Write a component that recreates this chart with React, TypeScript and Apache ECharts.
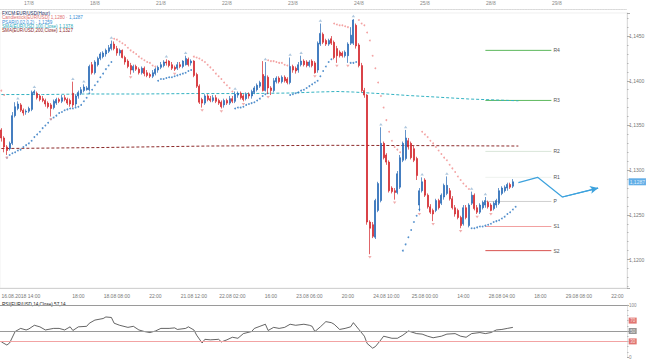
import React, { useEffect, useRef } from "react";
import * as echarts from "echarts";

// ---------- categories (hourly bars) ----------
const DAYS = ["16", "17", "18", "21", "22", "23", "24", "25", "28", "29", "30"];
const FIRST_HOUR = 14;
const CATEGORY_COUNT = 228;
const CATEGORIES = Array.from({ length: CATEGORY_COUNT }, (_, i) => {
  const d = DAYS[Math.floor((i + FIRST_HOUR) / 24)];
  const h = (i + FIRST_HOUR) % 24;
  return `${d}.08.2018 ${String(h).padStart(2, "0")}:00`;
});

const TOP_LABEL_INDEX = [10, 34, 58, 82, 106, 130, 154, 178, 202];
const TOP_LABELS = ["17/8", "18/8", "21/8", "22/8", "23/8", "24/8", "25/8", "28/8", "29/8"];
const BOTTOM_LABEL_STEP = 14;
const BOTTOM_LABELS = [
  "16.08.2018 14:00", "", "18:00", "18.08 08:00", "22:00", "21.08 12:00", "22.08 02:00",
  "16:00", "23.08 06:00", "20:00", "24.08 10:00", "25.08 00:00", "14:00", "28.08 04:00",
  "18:00", "29.08 08:00", "22:00",
];

// ---------- candles: [open, close, low, high] ----------
const CANDLES: number[][] = [
  [1.1345, 1.1336, 1.1332, 1.1347], [1.1336, 1.1326, 1.132, 1.1338], [1.1326, 1.1322, 1.1317, 1.1328],
  [1.1324, 1.133, 1.1322, 1.1332], [1.133, 1.1361, 1.1328, 1.1365], [1.1361, 1.1371, 1.1359, 1.1376],
  [1.1369, 1.1374, 1.1367, 1.1377], [1.1373, 1.1367, 1.1365, 1.1375], [1.1367, 1.1364, 1.1361, 1.1369],
  [1.1365, 1.1366, 1.1362, 1.1368], [1.1366, 1.1369, 1.1364, 1.1371], [1.1368, 1.1387, 1.1366, 1.1389],
  [1.1386, 1.1388, 1.1384, 1.139], [1.1386, 1.1381, 1.1379, 1.1388], [1.1383, 1.1379, 1.1377, 1.1385],
  [1.138, 1.1378, 1.1376, 1.1383], [1.1378, 1.1374, 1.1371, 1.138], [1.1375, 1.1371, 1.1369, 1.1377],
  [1.1373, 1.1369, 1.136, 1.1375], [1.137, 1.1377, 1.1368, 1.1379], [1.1375, 1.1379, 1.1373, 1.1381],
  [1.1379, 1.1377, 1.1375, 1.1381], [1.1377, 1.1381, 1.1375, 1.1384], [1.1381, 1.1379, 1.1377, 1.1384],
  [1.1379, 1.1375, 1.1373, 1.1381], [1.1378, 1.1374, 1.1371, 1.138], [1.1386, 1.1373, 1.137, 1.1399],
  [1.1374, 1.1383, 1.1371, 1.1385], [1.1383, 1.1387, 1.138, 1.1389], [1.1386, 1.139, 1.1384, 1.1393],
  [1.1389, 1.1393, 1.1387, 1.1396], [1.139, 1.1392, 1.1389, 1.1394], [1.139, 1.1416, 1.1388, 1.1418],
  [1.1418, 1.1409, 1.1407, 1.1421], [1.1409, 1.1421, 1.1407, 1.1423], [1.1418, 1.1425, 1.1416, 1.1427],
  [1.1425, 1.143, 1.1423, 1.1432], [1.1427, 1.1431, 1.1425, 1.1433], [1.143, 1.1434, 1.1427, 1.1436],
  [1.1433, 1.1437, 1.1431, 1.144], [1.1436, 1.1441, 1.1434, 1.1445], [1.1441, 1.1436, 1.1434, 1.1444],
  [1.1436, 1.1431, 1.1428, 1.1439], [1.1431, 1.1434, 1.1428, 1.1436], [1.1434, 1.1426, 1.1425, 1.1435],
  [1.1426, 1.1421, 1.1418, 1.1428], [1.1422, 1.1416, 1.1414, 1.1424], [1.1417, 1.1412, 1.1407, 1.142],
  [1.1412, 1.1416, 1.1409, 1.1418], [1.1416, 1.1413, 1.1411, 1.1418], [1.1413, 1.1409, 1.1407, 1.1415],
  [1.1409, 1.1414, 1.1407, 1.1416], [1.1414, 1.1408, 1.1405, 1.1416], [1.1409, 1.1406, 1.1404, 1.1412],
  [1.1407, 1.1405, 1.1403, 1.1409], [1.1405, 1.1409, 1.1403, 1.1412], [1.1408, 1.1413, 1.1406, 1.1415],
  [1.1412, 1.1415, 1.1409, 1.1417], [1.1415, 1.1418, 1.1413, 1.1421], [1.1417, 1.1421, 1.1415, 1.1423],
  [1.1421, 1.142, 1.1417, 1.1424], [1.1422, 1.1417, 1.1415, 1.1423], [1.1418, 1.1414, 1.1412, 1.1421],
  [1.1415, 1.1413, 1.1411, 1.1417], [1.1414, 1.1418, 1.1412, 1.1421], [1.1418, 1.1416, 1.1414, 1.1421],
  [1.1416, 1.1422, 1.1414, 1.1423], [1.1418, 1.1425, 1.1417, 1.1428], [1.1424, 1.1418, 1.1416, 1.1426],
  [1.142, 1.1422, 1.1417, 1.1424], [1.1422, 1.1406, 1.1404, 1.1423], [1.1407, 1.1394, 1.1392, 1.1409],
  [1.1394, 1.1376, 1.1374, 1.1396], [1.1379, 1.1375, 1.137, 1.1381], [1.1375, 1.1383, 1.1373, 1.1385],
  [1.1383, 1.1379, 1.1377, 1.1385], [1.138, 1.1378, 1.1376, 1.1383], [1.1378, 1.1381, 1.1376, 1.1384],
  [1.1381, 1.1377, 1.1375, 1.1384], [1.1378, 1.1375, 1.1373, 1.138], [1.1376, 1.1371, 1.1369, 1.1378],
  [1.1373, 1.1378, 1.137, 1.138], [1.1378, 1.1375, 1.1373, 1.138], [1.1375, 1.138, 1.1373, 1.1383],
  [1.138, 1.1377, 1.1375, 1.1383], [1.1377, 1.1385, 1.1375, 1.1388], [1.1384, 1.1386, 1.1381, 1.1388],
  [1.1386, 1.1381, 1.1379, 1.1388], [1.1383, 1.1379, 1.1377, 1.1385], [1.138, 1.1385, 1.1378, 1.1387],
  [1.1385, 1.1383, 1.138, 1.1387], [1.1383, 1.1388, 1.138, 1.139], [1.1387, 1.1392, 1.1385, 1.1394],
  [1.139, 1.1395, 1.1388, 1.1397], [1.1394, 1.1398, 1.1392, 1.14], [1.1407, 1.1389, 1.1388, 1.1422],
  [1.1389, 1.1405, 1.1388, 1.1421], [1.1404, 1.1392, 1.1385, 1.1406], [1.1392, 1.1389, 1.1384, 1.1394],
  [1.1389, 1.14, 1.1387, 1.1403], [1.1399, 1.1403, 1.1397, 1.1405], [1.1403, 1.1399, 1.1397, 1.1405],
  [1.1399, 1.1404, 1.1397, 1.1406], [1.1404, 1.14, 1.1398, 1.1406], [1.1402, 1.1398, 1.1396, 1.1404],
  [1.1398, 1.1416, 1.1396, 1.1426], [1.1416, 1.1412, 1.1409, 1.1418], [1.1414, 1.1411, 1.1408, 1.1416],
  [1.1412, 1.1418, 1.1409, 1.1421], [1.1418, 1.1422, 1.1416, 1.1428], [1.1422, 1.1418, 1.1416, 1.1424],
  [1.1421, 1.1417, 1.1415, 1.1423], [1.1417, 1.1421, 1.1415, 1.1423], [1.1422, 1.1417, 1.1415, 1.1424],
  [1.142, 1.1409, 1.1408, 1.1422], [1.1412, 1.1442, 1.1409, 1.1444], [1.1441, 1.1453, 1.1439, 1.1464],
  [1.1452, 1.1443, 1.1441, 1.1454], [1.1445, 1.1441, 1.1439, 1.1447], [1.1441, 1.1445, 1.1439, 1.1447],
  [1.1447, 1.1442, 1.144, 1.145], [1.1443, 1.1426, 1.1424, 1.1445], [1.1436, 1.1428, 1.142, 1.1439],
  [1.1432, 1.1428, 1.1426, 1.1434], [1.1431, 1.1428, 1.1426, 1.1433], [1.1428, 1.1432, 1.1426, 1.1434],
  [1.1428, 1.1441, 1.142, 1.1443], [1.1442, 1.1451, 1.144, 1.146], [1.1442, 1.1468, 1.144, 1.1469],
  [1.1462, 1.1439, 1.1436, 1.1464], [1.144, 1.1417, 1.1415, 1.1442], [1.1417, 1.1389, 1.1387, 1.142],
  [1.1389, 1.1384, 1.1381, 1.1392], [1.1384, 1.1242, 1.1239, 1.1385], [1.1242, 1.1235, 1.1206, 1.1244],
  [1.1239, 1.1226, 1.1224, 1.1242], [1.1225, 1.1266, 1.1223, 1.1268], [1.1255, 1.1285, 1.1253, 1.1287],
  [1.1266, 1.133, 1.1264, 1.1348], [1.133, 1.1314, 1.1312, 1.1332], [1.1317, 1.1309, 1.1306, 1.1319],
  [1.1309, 1.1277, 1.1275, 1.1311], [1.128, 1.1276, 1.1274, 1.1282], [1.1277, 1.1275, 1.1267, 1.128],
  [1.1275, 1.1296, 1.1273, 1.1299], [1.1281, 1.1314, 1.1279, 1.1317], [1.1311, 1.133, 1.1309, 1.1332],
  [1.1313, 1.1336, 1.1311, 1.1345], [1.1333, 1.1326, 1.1323, 1.1336], [1.133, 1.1314, 1.1312, 1.1332],
  [1.1324, 1.1311, 1.1309, 1.1327], [1.1313, 1.1294, 1.1289, 1.1315], [1.1261, 1.1277, 1.1254, 1.128],
  [1.1277, 1.1287, 1.1275, 1.1292], [1.1289, 1.1272, 1.127, 1.1291], [1.1272, 1.1259, 1.1257, 1.1274],
  [1.1259, 1.1253, 1.1251, 1.1262], [1.1255, 1.1251, 1.1243, 1.1257], [1.1255, 1.1266, 1.1253, 1.1268],
  [1.1266, 1.1258, 1.1256, 1.1268], [1.1263, 1.1272, 1.1261, 1.1274], [1.127, 1.1283, 1.1267, 1.1285],
  [1.1274, 1.1283, 1.1272, 1.1293], [1.1277, 1.1268, 1.1266, 1.128], [1.1268, 1.1258, 1.1256, 1.1271],
  [1.1258, 1.1251, 1.1248, 1.1261], [1.1255, 1.1247, 1.1245, 1.1257], [1.1247, 1.1238, 1.1235, 1.1249],
  [1.124, 1.1258, 1.1238, 1.1261], [1.1258, 1.1247, 1.1245, 1.1261], [1.1238, 1.1261, 1.1236, 1.1263],
  [1.1263, 1.1272, 1.1261, 1.1276], [1.1272, 1.1257, 1.1255, 1.1274], [1.1258, 1.1253, 1.1251, 1.1261],
  [1.1253, 1.1261, 1.1251, 1.1263], [1.1258, 1.1264, 1.1256, 1.1266], [1.1261, 1.1266, 1.1258, 1.127],
  [1.1264, 1.1259, 1.1257, 1.1266], [1.1261, 1.1255, 1.1254, 1.1263], [1.1257, 1.1263, 1.1255, 1.1265],
  [1.1261, 1.1266, 1.1258, 1.1268], [1.1263, 1.1277, 1.1261, 1.128], [1.1274, 1.128, 1.1272, 1.1282],
  [1.1277, 1.1281, 1.1275, 1.1283], [1.128, 1.1284, 1.1277, 1.1286], [1.1284, 1.1281, 1.1279, 1.1286],
  [1.1282, 1.1287, 1.128, 1.129],
];

// ---------- Parabolic SAR (one value per bar, plus the next bar) ----------
const SAR: number[] = [
  1.1389, 1.1384,
  1.1314, 1.1317, 1.1319, 1.132, 1.1322, 1.1323, 1.1326, 1.1328, 1.133, 1.1333, 1.1337, 1.134, 1.1343,
  1.1347, 1.135, 1.1353, 1.1357, 1.1359, 1.1361, 1.1364, 1.1365, 1.1367, 1.1368, 1.1369, 1.1369, 1.137,
  1.1371, 1.1373, 1.1377, 1.1381, 1.1386, 1.139, 1.1395, 1.1399, 1.1404, 1.1408, 1.1413, 1.1417, 1.1421,
  1.1447, 1.1446, 1.1444, 1.1442, 1.144, 1.1437, 1.1434, 1.1432, 1.143, 1.1427, 1.1425, 1.1423, 1.1421,
  1.142, 1.1417, 1.1416,
  1.14, 1.1402, 1.1402, 1.1403, 1.1404, 1.1404, 1.1405, 1.1406, 1.1407, 1.1408, 1.1409, 1.1411, 1.1412,
  1.1427, 1.1426, 1.1425, 1.1423, 1.1421, 1.1418, 1.1415, 1.1412, 1.1408, 1.1405, 1.1402, 1.1398, 1.1395,
  1.1392, 1.1388,
  1.1369, 1.137, 1.137, 1.1371, 1.1373, 1.1374, 1.1375, 1.1376, 1.1378, 1.138, 1.1383, 1.1385,
  1.1423, 1.1422, 1.1422, 1.1421, 1.142, 1.142, 1.1418, 1.1417,
  1.1384, 1.1385, 1.1386, 1.1387, 1.1389, 1.139, 1.1392, 1.1394, 1.1396, 1.1398, 1.14, 1.1405, 1.1411,
  1.1416, 1.1421, 1.1424,
  1.1464, 1.1463, 1.1462, 1.1462, 1.1461, 1.146,
  1.142, 1.142, 1.1421,
  1.1468, 1.1464, 1.1462, 1.1454, 1.1445, 1.1428, 1.1414, 1.1398, 1.1383, 1.137, 1.1356, 1.1343, 1.1333,
  1.1326, 1.1323, 1.132,
  1.121, 1.1217, 1.1225, 1.1233, 1.1242, 1.1249, 1.1256,
  1.1343, 1.134, 1.1337, 1.1333, 1.133, 1.1326, 1.1322, 1.1318, 1.1314, 1.1311, 1.1306, 1.1302, 1.1298,
  1.1293, 1.1289, 1.1285, 1.1282, 1.1279,
  1.1235, 1.1235, 1.1236, 1.1237, 1.1237, 1.1238, 1.1239, 1.124, 1.1242, 1.1243, 1.1244, 1.1246, 1.1248,
  1.1251, 1.1253, 1.1256, 1.1259,
];

// fractal markers (bar indices)
const FRACTAL_UP = [6, 12, 26, 30, 40, 60, 67, 85, 96, 105, 109, 116, 128, 138, 147, 153, 162, 171, 176];
const FRACTAL_DOWN = [2, 18, 47, 63, 73, 80, 88, 97, 114, 122, 126, 134, 143, 152, 157, 167, 173, 178];

// moving averages: [bar index, value]
const SMA100: number[][] = [
  [0, 1.13846], [15, 1.13846], [30, 1.13852], [50, 1.13852], [70, 1.13857], [90, 1.13857],
  [105, 1.13863], [115, 1.13874], [122, 1.1388], [128, 1.13874], [134, 1.13863], [140, 1.13852],
  [148, 1.13835], [158, 1.13818], [170, 1.13796], [180, 1.13785], [188, 1.13776],
];
const SMA200: number[][] = [
  [0, 1.13242], [36, 1.13253], [75, 1.1327], [120, 1.13278], [150, 1.13275], [188, 1.1327],
];

// pivots
const PIVOT_NAMES = ["R4", "R3", "R2", "R1", "P", "S1", "S2"];
const PIVOT_VALUES = [1.1434, 1.1378, 1.1321, 1.1292, 1.1265, 1.1237, 1.121];
const PIVOT_COLORS = ["#5cb85c", "#5cb85c", "#d9e6d9", "#eef2ee", "#cfcfcf", "#f2a0a0", "#d9534f"];
const PIVOT_START = 176;
const PIVOT_END = 200;

// forecast path: [bar index, value]
const FORECAST: number[][] = [[188, 1.1286], [195, 1.1292], [204, 1.127], [217, 1.128]];

// RSI(14): [bar index, value]
const RSI_POINTS: number[][] = [
  [0, 29], [2, 23], [3, 27], [5, 49], [7, 55], [9, 52], [10, 54], [12, 61], [14, 58], [16, 52], [19, 55],
  [21, 55], [23, 52], [25, 58], [26, 51], [28, 58], [31, 59], [32, 65], [34, 71], [37, 74], [38, 77],
  [40, 76], [41, 65], [43, 61], [46, 57], [48, 59], [50, 52], [52, 49], [54, 47], [56, 50], [58, 55],
  [61, 55], [63, 56], [64, 53], [67, 55], [68, 58], [70, 52], [71, 42], [73, 27], [74, 34], [76, 33],
  [79, 34], [80, 29], [82, 33], [84, 38], [86, 36], [88, 45], [91, 49], [92, 55], [94, 59], [96, 63],
  [97, 51], [99, 57], [101, 55], [103, 57], [105, 63], [107, 61], [110, 63], [112, 61], [113, 59],
  [114, 49], [116, 58], [118, 68], [120, 66], [121, 63], [123, 53], [125, 55], [127, 58], [128, 66],
  [130, 53], [132, 40], [133, 26], [135, 17], [136, 20], [138, 33], [139, 40], [142, 36], [144, 36],
  [146, 42], [148, 50], [151, 45], [153, 44], [155, 40], [157, 37], [160, 40], [162, 44], [165, 45],
  [167, 40], [169, 38], [171, 45], [174, 47], [176, 45], [178, 47], [180, 52], [182, 53], [184, 55],
  [186, 57],
];
const RSI_LEVELS = [70, 50, 30];
const RSI_LEVEL_COLORS = ["#d9534f", "#7a7a7a", "#d9534f"];

const Y_MIN = 1.11682;
const Y_MAX = 1.14758;
const FONT = "Liberation Sans, Arial, sans-serif";
const fmt = (v: number) => v.toFixed(4).replace(".", ",");
const isMajor = (v: number) => Math.abs(v / 0.005 - Math.round(v / 0.005)) < 1e-6;

export default function App() {
  const ref = useRef<HTMLDivElement>(null);
  useEffect(() => {
    if (!ref.current) return;
    const chart = echarts.init(ref.current, null, { renderer: "svg" });
    const last = CANDLES[CANDLES.length - 1];
    const lastCat = CATEGORY_COUNT - 1;
    const sarData = SAR.map((v, i) => {
      const c = CANDLES[Math.min(i, CANDLES.length - 1)][1];
      return { value: [i, v], itemStyle: { color: v > c ? "#f08c8c" : "#2a76c0" } };
    });
    const legendLine = (y: number, text: string, fill: string, rich?: any) => ({
      type: "text", x: 2, y, silent: true,
      style: { text, fill, fontSize: 4.6, fontFamily: FONT, verticalAlign: "middle", rich },
    });
    const tagLabel = (text: string, bg: string, size: number, pad: number[]) => ({
      show: true, position: "right", distance: 3, formatter: text, backgroundColor: bg,
      color: "#fff", fontSize: size, padding: pad, fontFamily: FONT,
    });

    const option: any = {
      animation: false,
      backgroundColor: "#ffffff",
      textStyle: { fontFamily: FONT },
      grid: [
        { left: 0, width: 627, top: 13, height: 275, show: true, borderColor: "#e6e6e6", borderWidth: 0.6, outerBoundsMode: "none" },
        { left: 0, width: 627, top: 305, height: 52, show: false, outerBoundsMode: "none" },
      ],
      xAxis: [
        {
          type: "category", gridIndex: 0, data: CATEGORIES, position: "bottom",
          axisLine: { lineStyle: { color: "#c8c8c8", width: 0.8 } },
          axisTick: { alignWithLabel: true, interval: (i: number) => i % BOTTOM_LABEL_STEP === 0, length: 4, lineStyle: { color: "#a8a8a8", width: 0.8 } },
          axisLabel: {
            interval: (i: number) => i % BOTTOM_LABEL_STEP === 0 && BOTTOM_LABELS[i / BOTTOM_LABEL_STEP] !== "",
            formatter: (_v: string, i: number) => BOTTOM_LABELS[i / BOTTOM_LABEL_STEP] ?? "",
            fontSize: 5, color: "#777", margin: 5, alignMinLabel: "left",
          },
          splitLine: { show: false },
        },
        {
          type: "category", gridIndex: 0, data: CATEGORIES, position: "top", offset: 4,
          axisLine: { lineStyle: { color: "#cfcfcf", width: 0.8, type: "dotted" } },
          axisTick: { alignWithLabel: true, interval: (i: number) => TOP_LABEL_INDEX.includes(i), length: 3, lineStyle: { color: "#e4a23a", width: 1.6 } },
          axisLabel: {
            interval: (i: number) => TOP_LABEL_INDEX.includes(i),
            formatter: (_v: string, i: number) => TOP_LABELS[TOP_LABEL_INDEX.indexOf(i)] ?? "",
            fontSize: 5, color: "#888", margin: 4,
          },
          splitLine: { show: false },
        },
        {
          type: "category", gridIndex: 0, data: CATEGORIES, position: "top", offset: 4,
          axisLine: { show: false }, axisLabel: { show: false }, splitLine: { show: false },
          axisTick: { alignWithLabel: true, interval: (i: number) => i % 6 === 4, length: 2, lineStyle: { color: "#bdbdbd", width: 0.8 } },
        },
        {
          type: "category", gridIndex: 0, data: CATEGORIES, position: "bottom",
          axisLine: { show: false }, axisLabel: { show: false }, splitLine: { show: false },
          axisTick: { alignWithLabel: true, interval: (i: number) => i % BOTTOM_LABEL_STEP !== 0 && i % 4 === 0, length: 2, lineStyle: { color: "#bdbdbd", width: 0.8 } },
        },
        { type: "category", gridIndex: 1, data: CATEGORIES, show: false },
      ],
      yAxis: [
        {
          type: "value", gridIndex: 0, position: "right", min: Y_MIN, max: Y_MAX,
          splitLine: { show: false },
          axisLine: { show: true, lineStyle: { color: "#d4d4d4", width: 0.8 } },
          axisTick: { show: true, length: 3, lineStyle: { color: "#999", width: 0.8 } },
          minorTick: { show: true, splitNumber: 5, length: 1.5, lineStyle: { color: "#aaa", width: 0.8 } },
          axisLabel: { fontSize: 5, color: "#777", margin: 2, formatter: (v: number) => (isMajor(v) ? fmt(v) : "") },
        },
        {
          type: "value", gridIndex: 1, position: "right", min: 0, max: 100, interval: 50,
          splitLine: { show: false },
          axisLine: { show: true, lineStyle: { color: "#dddddd", width: 0.8 } },
          axisTick: { show: true, length: 2, lineStyle: { color: "#aaa" } },
          minorTick: { show: true, splitNumber: 5, length: 1.5, lineStyle: { color: "#bbb" } },
          axisLabel: { fontSize: 4.5, color: "#888", margin: 2, formatter: (v: number) => (v === 50 ? "" : String(v)) },
        },
      ],
      graphic: [
        legendLine(13.5, "FXCM:EUR/USD(Hour)", "#1f2d5c"),
        legendLine(17.8, "{a|Candlestick(EUR/USD) 1,1280 ·} {b|1,1287}", "#e07070", {
          a: { fill: "#e07070", fontSize: 4.6, fontFamily: FONT },
          b: { fill: "#3a8fd6", fontSize: 4.6, fontFamily: FONT },
        }),
        legendLine(22.1, "PSAR(0.02,0.2) · 1,1259", "#3a8fd6"),
        legendLine(26.4, "SMA(EUR/USD,100,Close) 1,1378", "#2aa9b8"),
        legendLine(30.7, "SMA(EUR/USD,200,Close) 1,1327", "#8c2a2a"),
        legendLine(304.5, "RSI(EUR/USD,14,Close) 57,14", "#222"),
      ],
      series: [
        ...PIVOT_NAMES.map((name, k) => ({
          type: "line", xAxisIndex: 0, yAxisIndex: 0, silent: true,
          data: [[PIVOT_START, PIVOT_VALUES[k]], [PIVOT_END, PIVOT_VALUES[k]]],
          symbol: "none", lineStyle: { color: PIVOT_COLORS[k], width: 1 },
          endLabel: { show: true, formatter: name, distance: 2, fontSize: 5, color: "#555", fontFamily: FONT },
          z: 1,
        })),
        {
          type: "line", xAxisIndex: 0, yAxisIndex: 0, data: SMA200, symbol: "none", silent: true,
          lineStyle: { color: "#8c2a2a", width: 1, type: [3, 2] }, z: 2,
        },
        {
          type: "line", xAxisIndex: 0, yAxisIndex: 0, data: SMA100, symbol: "none", silent: true,
          lineStyle: { color: "#33b2c2", width: 1, type: [3, 2] }, z: 2,
        },
        {
          type: "candlestick", xAxisIndex: 0, yAxisIndex: 0, data: CANDLES, barWidth: 1.6,
          itemStyle: { color: "#2467b5", color0: "#d32228", borderColor: "#2467b5", borderColor0: "#d32228", borderWidth: 0.7 },
          z: 3,
        },
        {
          type: "scatter", xAxisIndex: 0, yAxisIndex: 0, data: sarData, symbol: "circle", symbolSize: 1.8, silent: true, z: 4,
        },
        {
          type: "scatter", xAxisIndex: 0, yAxisIndex: 0, silent: true, z: 4,
          data: FRACTAL_UP.map((i) => [i, CANDLES[i][3]]),
          symbol: "triangle", symbolSize: [3.5, 2.5], symbolOffset: [0, -3], itemStyle: { color: "#9bbad6" },
        },
        {
          type: "scatter", xAxisIndex: 0, yAxisIndex: 0, silent: true, z: 4,
          data: FRACTAL_DOWN.map((i) => [i, CANDLES[i][2]]),
          symbol: "triangle", symbolRotate: 180, symbolSize: [3.5, 2.5], symbolOffset: [0, 3], itemStyle: { color: "#ee9a9a" },
        },
        {
          type: "line", xAxisIndex: 0, yAxisIndex: 0, data: FORECAST, symbol: "none", silent: true,
          lineStyle: { color: "#3da2dd", width: 1.2 }, z: 5,
          markLine: {
            silent: true, symbol: ["none", "arrow"], symbolSize: [6, 8],
            lineStyle: { color: "#3da2dd", width: 1.2, type: "solid" }, label: { show: false },
            data: [[{ coord: FORECAST[2] }, { coord: FORECAST[3] }]],
          },
        },
        {
          // current price tag on the price axis
          type: "scatter", xAxisIndex: 0, yAxisIndex: 0, silent: true, clip: false, z: 6,
          symbol: "circle", symbolSize: 0.1, itemStyle: { color: "rgba(0,0,0,0)" },
          data: [{ value: [lastCat, last[1]], label: tagLabel(fmt(last[1]), "#3b9ae1", 5, [1, 1, 1, 1]) }],
        },
        {
          type: "line", xAxisIndex: 4, yAxisIndex: 1, data: RSI_POINTS, symbol: "none", silent: true,
          lineStyle: { color: "#222", width: 0.7 },
          markLine: {
            silent: true, symbol: ["none", "none"], label: { show: false },
            data: [
              { yAxis: 100, lineStyle: { color: "#9a9a9a", width: 1, type: "solid" } },
              { yAxis: 50, lineStyle: { color: "#9a9a9a", width: 1, type: "solid" } },
              { yAxis: 30, lineStyle: { color: "#f2a3a3", width: 1, type: "solid" } },
            ],
          },
        },
        {
          type: "scatter", xAxisIndex: 4, yAxisIndex: 1, silent: true, clip: false, z: 6,
          symbol: "circle", symbolSize: 0.1, itemStyle: { color: "rgba(0,0,0,0)" },
          data: RSI_LEVELS.map((lv, k) => ({
            value: [lastCat, lv],
            label: tagLabel(String(lv), RSI_LEVEL_COLORS[k], 4.5, [0.5, 1.5, 0.5, 1.5]),
          })),
        },
      ],
    };
    chart.setOption(option);
    return () => chart.dispose();
  }, []);
  return <div ref={ref} style={{ position: "absolute", left: 0, top: 0, width: 647, height: 360 }} />;
}
